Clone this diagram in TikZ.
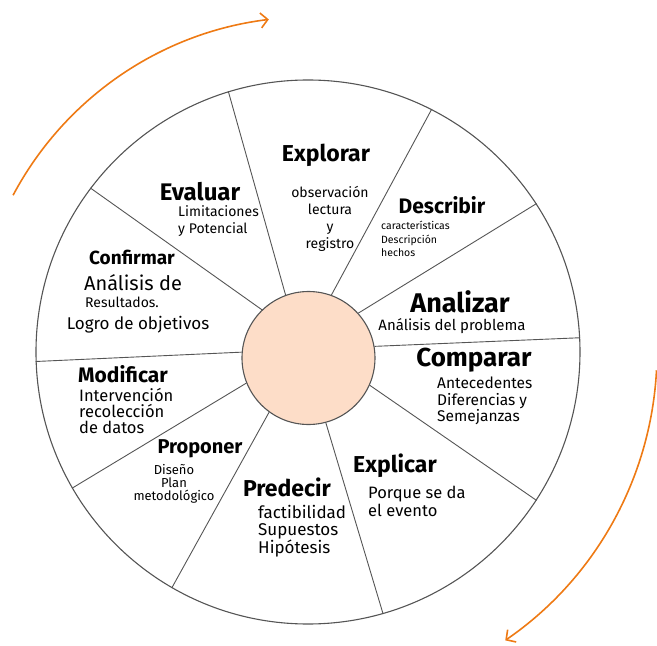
\documentclass[tikz,border=0pt]{standalone}
\usepackage{fontspec}
\setmainfont{Fira Sans}
\usetikzlibrary{arrows.meta}

\definecolor{turnorange}{RGB}{238,122,20}
\definecolor{hubpeach}{RGB}{253,221,200}
\definecolor{rimgray}{RGB}{85,85,85}

\begin{document}
\begin{tikzpicture}[
    x=1pt, y=1pt,
    rim/.style={circle, draw=rimgray, line width=1.1pt, inner sep=0pt},
    spoke/.style={draw=rimgray, line width=0.9pt},
    title/.style={font=\bfseries\fontsize{23}{25}\selectfont, inner sep=0pt},
    bigtitle/.style={title, font=\bfseries\fontsize{27}{29}\selectfont},
    item/.style={font=\fontsize{14}{17}\selectfont, align=left, inner sep=0pt},
    smallitem/.style={font=\fontsize{10.5}{13.5}\selectfont, align=left, inner sep=0pt},
    turn/.style={draw=turnorange, line width=1.6pt,
        -{Straight Barb[length=7pt, width=15pt]}},
]

    % Page frame: same proportions as the reference.
    \useasboundingbox (-308,-294) rectangle (349,352);

    % ---------- Wheel and hub ----------
    \node[rim, minimum size=544pt] (wheel) at (0,0) {};
    \node[rim, fill=hubpeach, minimum size=133pt] (hub) at (0.5,-6) {};

    % Spokes: hub angle / rim angle.
    \foreach \a/\b in {110/107, 70/63, 42/33, 10/3, -24/-33,
                       -75/-74, 234/240, 202/210, 175/182, 134/143}
        \draw[spoke] (hub.\a) -- (wheel.\b);

    % ---------- Orange turn arrows ----------
    \coordinate (turn-top) at (152:334);
    \draw[turn] (turn-top) arc[start angle=152, end angle=97, radius=336];
    \coordinate (turn-right) at (-3:349);
    \draw[turn] (turn-right) arc[start angle=-3, end angle=-55.5, radius=350];

    % ---------- Sectors, clockwise from the top ----------
    \node[title] (explorar) at (18,197) {Explorar};
    \node[item, align=center] (explorar-txt) at (22,133) {observación\\lectura\\y\\registro};

    \node[title, font=\bfseries\fontsize{21}{23}\selectfont] (describir) at (134,147) {Describir};
    \node[smallitem, anchor=north west] (describir-txt) at (73,131) {características\\Descripción\\hechos};

    \node[bigtitle] (analizar) at (152,50) {Analizar};
    \node[item, font=\fontsize{15}{17}\selectfont] (analizar-txt) at (144,26) {Análisis del problema};

    \node[bigtitle, font=\bfseries\fontsize{26}{28}\selectfont] (comparar) at (166,-8) {Comparar};
    \node[item, anchor=north west, font=\fontsize{15.5}{16.5}\selectfont] (comparar-txt) at (129,-25) {Antecedentes\\Diferencias y\\Semejanzas};

    \node[title] (explicar) at (87,-114) {Explicar};
    \node[item, anchor=north west, font=\fontsize{16.5}{18}\selectfont] (explicar-txt) at (60,-134) {Porque se da\\el evento};

    \node[title] (predecir) at (-21,-135) {Predecir};
    \node[item, anchor=north west, font=\fontsize{17}{17.5}\selectfont] (predecir-txt) at (-50,-153) {factibilidad\\Supuestos\\Hipótesis};

    \node[title, font=\bfseries\fontsize{20}{22}\selectfont] (proponer) at (-108,-97) {Proponer};
    \node[smallitem, align=center, font=\fontsize{13}{13}\selectfont] (proponer-txt) at (-134,-132) {Diseño\\Plan\\metodológico};

    \node[title, font=\bfseries\fontsize{21}{23}\selectfont] (modificar) at (-185,-22) {Modificar};
    \node[item, anchor=north west, font=\fontsize{16.5}{16}\selectfont] (modificar-txt) at (-229,-36) {Intervención\\recolección\\de datos};

    \node[title, font=\bfseries\fontsize{19}{21}\selectfont] (confirmar) at (-176,95) {Confirmar};
    \node[item, font=\fontsize{20}{22}\selectfont] (confirmar-a) at (-175,69) {Análisis de};
    \node[item, font=\fontsize{14}{16}\selectfont] (confirmar-b) at (-186,50) {Resultados.};
    \node[item, font=\fontsize{17}{19}\selectfont] (confirmar-c) at (-170,27) {Logro de objetivos};

    \node[title, font=\bfseries\fontsize{24}{26}\selectfont] (evaluar) at (-108,160) {Evaluar};
    \node[item, anchor=north west] (evaluar-txt) at (-130,147) {Limitaciones\\y Potencial};

\end{tikzpicture}
\end{document}
